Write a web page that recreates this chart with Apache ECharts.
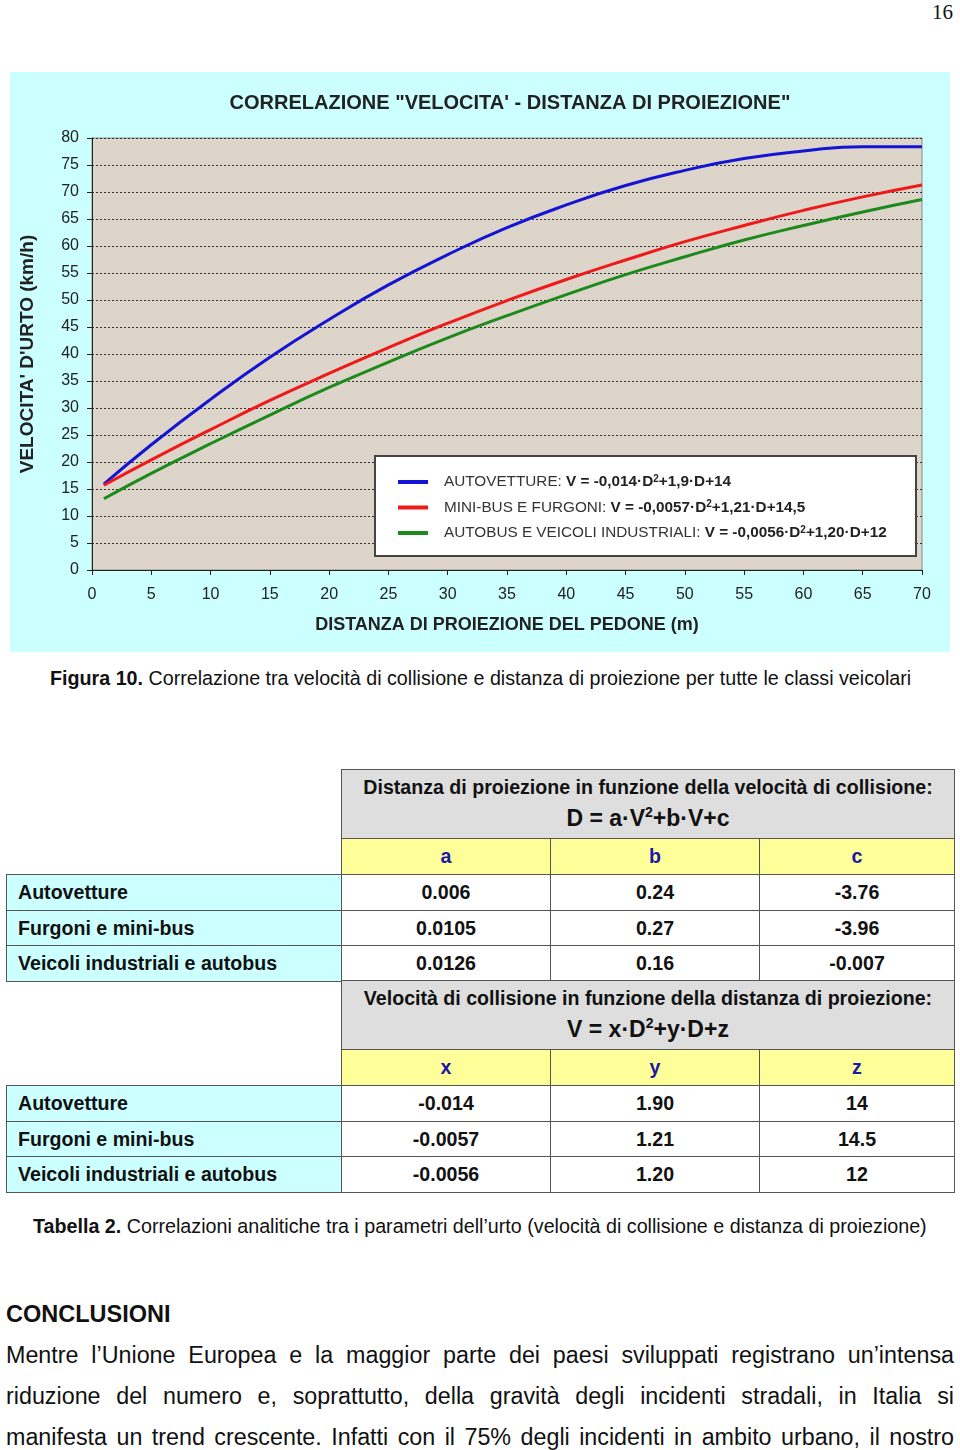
<!DOCTYPE html>
<html><head><meta charset="utf-8">
<script src="https://cdn.jsdelivr.net/npm/echarts@6/dist/echarts.min.js"></script>
<style>
html,body{margin:0;padding:0;background:#fff;}
body{width:960px;height:1450px;position:relative;overflow:hidden;font-family:"Liberation Sans",Arial,sans-serif;color:#111;}
#chart{position:absolute;left:10px;top:72px;width:940px;height:580px;}
.abs{position:absolute;white-space:nowrap;}
.cell{position:absolute;box-sizing:border-box;border:1px solid #555;font-weight:bold;font-size:19.6px;text-align:center;}
.cell span{position:absolute;left:0;right:0;}
.para{position:absolute;left:6px;width:948px;font-size:23.3px;line-height:27px;text-align:justify;text-align-last:justify;}
</style></head><body>
<div class="abs" style="right:7px;top:0;font-family:'Liberation Serif',serif;font-size:21px;line-height:24px;">16</div>
<div id="chart"></div>
<div class="abs" style="left:50px;top:667px;font-size:19.7px;line-height:22px;"><b>Figura 10.</b> Correlazione tra velocità di collisione e distanza di proiezione per tutte le classi veicolari</div>
<div id="table"></div>
<div class="abs" style="left:33px;top:1215px;font-size:19.7px;line-height:22px;"><b>Tabella 2.</b> Correlazioni analitiche tra i parametri dell’urto (velocità di collisione e distanza di proiezione)</div>
<div class="abs" style="left:6px;top:1301px;font-size:23.5px;line-height:27px;font-weight:bold;">CONCLUSIONI</div>
<div class="para" style="top:1342px;">Mentre l’Unione Europea e la maggior parte dei paesi sviluppati registrano un’intensa</div>
<div class="para" style="top:1383px;">riduzione del numero e, soprattutto, della gravità degli incidenti stradali, in Italia si</div>
<div class="para" style="top:1424px;">manifesta un trend crescente. Infatti con il 75% degli incidenti in ambito urbano, il nostro</div>
<script>
// ---- chart data ----
const distances = [1, 5, 10, 15, 20, 25, 30, 35, 40, 45, 50, 55, 60, 65, 70];
const autovetture = [15.9, 23.2, 31.6, 39.4, 46.4, 52.8, 58.4, 63.4, 67.6, 71.2, 74.0, 76.2, 77.6, 78.4, 78.4];
const minibus = [15.7, 20.4, 26.0, 31.4, 36.4, 41.2, 45.7, 49.9, 53.8, 57.4, 60.8, 63.8, 66.6, 69.1, 71.3];
const autobus = [13.2, 17.9, 23.4, 28.7, 33.8, 38.5, 43.0, 47.1, 51.0, 54.7, 58.0, 61.1, 63.8, 66.3, 68.6];
const seriesNames = ['AUTOVETTURE', 'MINI-BUS E FURGONI', 'AUTOBUS E VEICOLI INDUSTRIALI'];
const formulaHead = ['V = -0,014·D', 'V = -0,0057·D', 'V = -0,0056·D'];
const formulaTail = ['+1,9·D+14', '+1,21·D+14,5', '+1,20·D+12'];
const seriesColors = ['#1414d2', '#ee1a1a', '#1c8a1c'];

// ---- table data ----
const rowLabels = ['Autovetture', 'Furgoni e mini-bus', 'Veicoli industriali e autobus'];
const coefA = ['0.006', '0.0105', '0.0126'];
const coefB = ['0.24', '0.27', '0.16'];
const coefC = ['-3.76', '-3.96', '-0.007'];
const coefX = ['-0.014', '-0.0057', '-0.0056'];
const coefY = ['1.90', '1.21', '1.20'];
const coefZ = ['14', '14.5', '12'];

const seriesData = [autovetture, minibus, autobus];
const chart = echarts.init(document.getElementById('chart'), null, {renderer: 'canvas'});
const FONT = 'Liberation Sans, Arial, sans-serif';
chart.setOption({
  animation: false,
  backgroundColor: '#ccffff',
  textStyle: {fontFamily: FONT},
  title: {
    text: 'CORRELAZIONE "VELOCITA\' - DISTANZA DI PROIEZIONE"',
    left: 495, textAlign: 'center', top: 16,
    textStyle: {fontSize: 20, fontWeight: 'bold', color: '#222', fontFamily: FONT}
  },
  grid: {left: 82, top: 66, width: 830, height: 432, show: true,
    backgroundColor: '#ddd5ca', borderColor: '#8a8a8a', borderWidth: 1},
  graphic: [{
    type: 'rect', z: 3, shape: {x: 365, y: 384, width: 541, height: 100},
    style: {fill: '#ffffff', stroke: '#444', lineWidth: 2}
  }],
  legend: {
    orient: 'vertical', left: 388, top: 402, z: 5, padding: 0,
    selectedMode: false, icon: 'rect', itemWidth: 30, itemHeight: 4, itemGap: 10,
    data: seriesNames,
    formatter: function (name) {
      const i = seriesNames.indexOf(name);
      return '{n|' + name + ': }{f|' + formulaHead[i] + '}{s|2}{f|' + formulaTail[i] + '}';
    },
    textStyle: {
      padding: [0, 0, 0, 11],
      rich: {
        n: {fontSize: 15.3, color: '#333', fontFamily: FONT, lineHeight: 16, verticalAlign: 'middle'},
        f: {fontSize: 15.3, fontWeight: 'bold', color: '#222', fontFamily: FONT, lineHeight: 16, verticalAlign: 'middle'},
        s: {fontSize: 10, fontWeight: 'bold', color: '#222', fontFamily: FONT, lineHeight: 16, verticalAlign: 'top'}
      }
    }
  },
  xAxis: {
    type: 'value', min: 0, max: 70, interval: 5,
    name: 'DISTANZA DI PROIEZIONE DEL PEDONE (m)', nameLocation: 'middle', nameGap: 46,
    nameTextStyle: {fontSize: 18, fontWeight: 'bold', color: '#222', fontFamily: FONT},
    axisLine: {show: true, lineStyle: {color: '#222', width: 1}},
    axisTick: {show: true, length: 5, lineStyle: {color: '#222'}},
    axisLabel: {margin: 17, fontSize: 16, color: '#222'},
    splitLine: {show: false}
  },
  yAxis: {
    type: 'value', min: 0, max: 80, interval: 5,
    name: "VELOCITA' D'URTO (km/h)", nameLocation: 'middle', nameRotate: 90, nameGap: 55,
    nameTextStyle: {fontSize: 19, fontWeight: 'bold', color: '#222', fontFamily: FONT},
    axisLine: {show: true, lineStyle: {color: '#222', width: 1}},
    axisTick: {show: true, length: 5, lineStyle: {color: '#222'}},
    axisLabel: {margin: 13, fontSize: 16, color: '#222'},
    splitLine: {show: true, lineStyle: {color: '#333', width: 1, type: [2, 2]}}
  },
  series: seriesNames.map(function (name, i) {
    return {
      name: name, type: 'line', smooth: true, showSymbol: false, z: 2,
      color: seriesColors[i],
      lineStyle: {width: 3, color: seriesColors[i]},
      data: distances.map(function (d, k) { return [d, seriesData[i][k]]; })
    };
  })
});

// ---- table (HTML) ----
const tbl = document.getElementById('table');
const colX = [6, 341, 550, 759, 954];
function cell(x0, x1, y0, y1, bg, html, extra) {
  const d = document.createElement('div');
  d.className = 'cell';
  d.style.left = x0 + 'px'; d.style.top = y0 + 'px';
  d.style.width = (x1 - x0 + 1) + 'px'; d.style.height = (y1 - y0 + 1) + 'px';
  d.style.background = bg;
  d.innerHTML = html;
  if (extra) Object.assign(d.style, extra);
  tbl.appendChild(d);
  return d;
}
function block(top, title, formula, letters, cols) {
  cell(colX[1], colX[4], top, top + 69, '#dedede',
    '<span style="top:5px;line-height:24px;">' + title + '</span>' +
    '<span style="top:28px;line-height:28px;font-size:23px;">' + formula + '</span>');
  for (let c = 0; c < 3; c++) {
    cell(colX[c + 1], colX[c + 2], top + 69, top + 105, '#ffff99',
      '<span style="top:0;line-height:35px;color:#1a1aa8;">' + letters[c] + '</span>');
  }
  for (let r = 0; r < 3; r++) {
    const y0 = top + 105 + r * 35.5, y1 = y0 + 35.5;
    cell(colX[0], colX[1], Math.round(y0), Math.round(y1), '#ccffff',
      '<span style="top:0;line-height:34px;text-align:left;padding-left:11px;">' + rowLabels[r] + '</span>');
    for (let c = 0; c < 3; c++) {
      cell(colX[c + 1], colX[c + 2], Math.round(y0), Math.round(y1), '#ffffff',
        '<span style="top:0;line-height:34px;">' + cols[c][r] + '</span>');
    }
  }
}
block(769, 'Distanza di proiezione in funzione della velocità di collisione:',
  'D = a·V<sup style="font-size:14px;">2</sup>+b·V+c', ['a', 'b', 'c'], [coefA, coefB, coefC]);
block(980, 'Velocità di collisione in funzione della distanza di proiezione:',
  'V = x·D<sup style="font-size:14px;">2</sup>+y·D+z', ['x', 'y', 'z'], [coefX, coefY, coefZ]);
</script>
</body></html>
